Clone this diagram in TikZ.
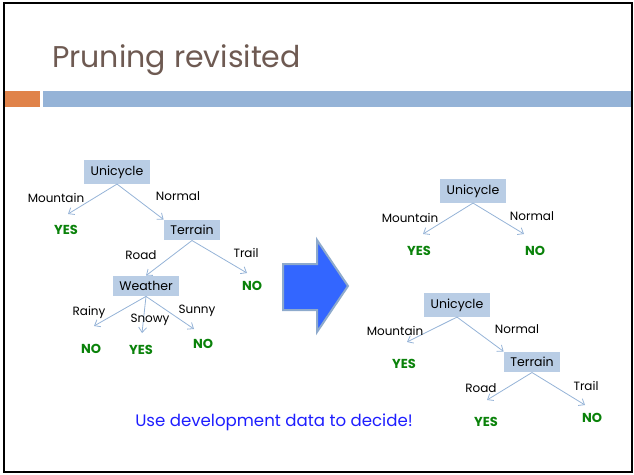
\documentclass[tikz,border=0pt]{standalone}
\usepackage{fontspec}
\setmainfont{Poppins}
\usetikzlibrary{arrows.meta}
\definecolor{titlebrown}{RGB}{110,90,82}
\definecolor{barorange}{RGB}{224,131,74}
\definecolor{barblue}{RGB}{149,179,215}
\definecolor{boxfill}{RGB}{185,205,229}
\definecolor{edgeblue}{RGB}{149,179,215}
\definecolor{leafgreen}{RGB}{10,130,10}
\definecolor{arrowfill}{RGB}{51,102,255}
\definecolor{arrowedge}{RGB}{142,170,204}
\definecolor{notetext}{RGB}{30,30,255}
\tikzset{
  attr/.style={fill=boxfill, inner xsep=6.5pt, inner ysep=5.5pt, font=\fontsize{12.5}{14}\selectfont},
  branch/.style={font=\fontsize{12}{14}\selectfont, inner sep=0pt},
  leaf/.style={font=\fontsize{13}{15}\selectfont\bfseries, text=leafgreen, inner sep=0pt},
  edge/.style={draw=edgeblue, line width=0.8pt, -{Straight Barb[length=5pt,width=8pt]}},
}
\begin{document}
\begin{tikzpicture}[x=1pt,y=-1pt]
\useasboundingbox (0,0) rectangle (634,474);
% slide frame and header bars
\draw[line width=2pt] (4,2.5) rectangle (631.5,472);
\fill[barorange] (5,91) rectangle (40,107);
\fill[barblue] (43,91) rectangle (630.5,107);
\node[anchor=base west, text=titlebrown, font=\fontsize{30}{36}\selectfont, inner sep=0pt] (title) at (52,67) {Pruning revisited};

% ---- full tree (left) ----
\node[attr] (u1) at (117,172) {Unicycle};
\node[attr] (t1) at (192,230) {Terrain};
\node[attr] (w1) at (146,286) {Weather};
\node[leaf] (y1) at (66,230) {YES};
\node[leaf] (n1) at (252,286) {NO};
\node[leaf] (n2) at (91,349) {NO};
\node[leaf] (y2) at (141,350) {YES};
\node[leaf] (n3) at (203,344) {NO};
\coordinate (ey1) at (68,214);
\coordinate (en1) at (247,273);
\coordinate (en2) at (94,326);
\coordinate (ey2) at (142,333);
\coordinate (en3) at (194,329);
\draw[edge] (u1.south) -- (ey1);
\draw[edge] (u1.south) -- (t1.north west);
\draw[edge] (t1.south) -- (w1.north);
\draw[edge] (t1.south) -- (en1);
\draw[edge] (w1.south) -- (en2);
\draw[edge] (w1.south) -- (ey2);
\draw[edge] (w1.south) -- (en3);
\node[branch] (l1) at (56,198) {Mountain};
\node[branch] (l2) at (178,196) {Normal};
\node[branch] (l3) at (141,255) {Road};
\node[branch] (l4) at (246,253) {Trail};
\node[branch] (l5) at (89,312) {Rainy};
\node[branch] (l6) at (150,320) {Snowy};
\node[branch] (l7) at (197,311) {Sunny};

% ---- block arrow ----
\draw[fill=arrowfill, draw=arrowedge, line width=2pt, line join=miter]
  (283,264) -- (317,264) -- (317,240) -- (348,286) -- (317,332) -- (317,310) -- (283,310) -- cycle;

% ---- pruned tree (top right) ----
\node[attr] (u2) at (473,191) {Unicycle};
\node[leaf] (y3) at (419,251) {YES};
\node[leaf] (n4) at (535,251) {NO};
\coordinate (ey3) at (423,234);
\coordinate (en4) at (524,234);
\draw[edge] (u2.south) -- (ey3);
\draw[edge] (u2.south) -- (en4);
\node[branch] (l8) at (410,218) {Mountain};
\node[branch] (l9) at (532,216) {Normal};

% ---- pruned tree (bottom right) ----
\node[attr] (u3) at (457,305) {Unicycle};
\node[attr] (t3) at (532,362) {Terrain};
\node[leaf] (y4) at (404,364) {YES};
\node[leaf] (y5) at (486,422) {YES};
\node[leaf] (n5) at (592,418) {NO};
\coordinate (ey4) at (407,342);
\coordinate (ey5) at (487,400);
\coordinate (en5) at (585,405);
\draw[edge] (u3.south) -- (ey4);
\draw[edge] (u3.south) -- (t3.north west);
\draw[edge] (t3.south) -- (ey5);
\draw[edge] (t3.south) -- (en5);
\node[branch] (l10) at (395,331) {Mountain};
\node[branch] (l11) at (517,329) {Normal};
\node[branch] (l12) at (481,388) {Road};
\node[branch] (l13) at (586,386) {Trail};

% ---- note ----
\node[text=notetext, font=\fontsize{16.6}{19}\selectfont, inner sep=0pt] (note) at (274,422) {Use development data to decide!};
\end{tikzpicture}
\end{document}
